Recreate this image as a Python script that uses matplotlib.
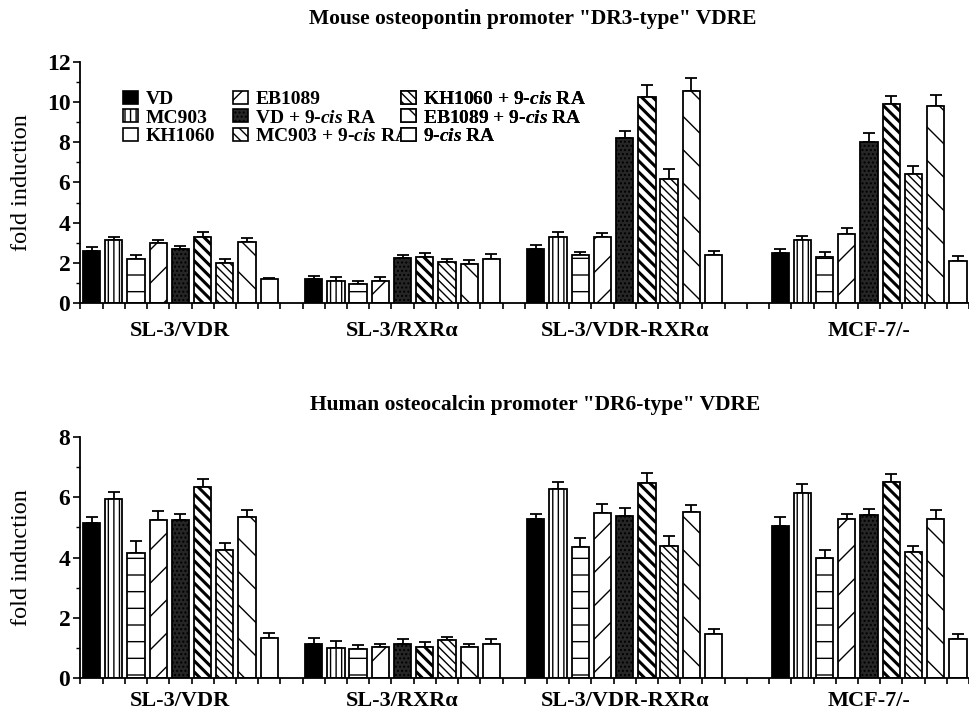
import numpy as np
import matplotlib
matplotlib.use("Agg")
import matplotlib.pyplot as plt
from matplotlib.patches import Patch

plt.rcParams['font.family'] = ['Liberation Serif', 'DejaVu Serif']
plt.rcParams['font.weight'] = 'bold'
plt.rcParams['font.size'] = 14
plt.rcParams['mathtext.fontset'] = 'custom'
plt.rcParams['mathtext.it'] = 'Liberation Serif:italic'
plt.rcParams['mathtext.rm'] = 'Liberation Serif:bold'
plt.rcParams['hatch.linewidth'] = 1.0

# treatments, in bar order inside each group
treatments = ['VD', 'MC903', 'KH1060', 'EB1089',
              'VD + 9-$\\mathit{cis}$ RA', 'MC903 + 9-$\\mathit{cis}$ RA',
              'KH1060 + 9-$\\mathit{cis}$ RA', 'EB1089 + 9-$\\mathit{cis}$ RA',
              '9-$\\mathit{cis}$ RA']
groups = ['SL-3/VDR', 'SL-3/RXRα', 'SL-3/VDR-RXRα', 'MCF-7/-']

# Mouse osteopontin promoter (DR3-type VDRE)
dr3_vdr = [2.59, 3.13, 2.17, 2.97, 2.67, 3.27, 2.00, 3.02, 1.18]
dr3_vdr_err = [0.18, 0.17, 0.20, 0.16, 0.17, 0.26, 0.17, 0.23, 0.08]
dr3_rxr = [1.21, 1.09, 0.93, 1.09, 2.22, 2.27, 2.02, 1.94, 2.19]
dr3_rxr_err = [0.13, 0.22, 0.18, 0.22, 0.17, 0.20, 0.15, 0.20, 0.25]
dr3_vdrrxr = [2.70, 3.30, 2.37, 3.30, 8.24, 10.26, 6.17, 10.56, 2.37]
dr3_vdrrxr_err = [0.19, 0.23, 0.18, 0.20, 0.32, 0.58, 0.51, 0.62, 0.22]
dr3_mcf7 = [2.47, 3.13, 2.30, 3.43, 8.01, 9.93, 6.43, 9.82, 2.09]
dr3_mcf7_err = [0.23, 0.22, 0.22, 0.28, 0.43, 0.38, 0.39, 0.56, 0.25]

# Human osteocalcin promoter (DR6-type VDRE)
dr6_vdr = [5.15, 5.94, 4.14, 5.24, 5.25, 6.35, 4.24, 5.35, 1.34]
dr6_vdr_err = [0.19, 0.25, 0.40, 0.30, 0.21, 0.24, 0.23, 0.22, 0.17]
dr6_rxr = [1.14, 1.01, 0.96, 1.03, 1.14, 1.03, 1.25, 1.03, 1.13]
dr6_rxr_err = [0.19, 0.22, 0.12, 0.11, 0.14, 0.17, 0.11, 0.11, 0.16]
dr6_vdrrxr = [5.27, 6.26, 4.35, 5.47, 5.37, 6.48, 4.38, 5.51, 1.45]
dr6_vdrrxr_err = [0.18, 0.23, 0.31, 0.32, 0.27, 0.31, 0.35, 0.22, 0.18]
dr6_mcf7 = [5.06, 6.15, 3.97, 5.28, 5.40, 6.50, 4.18, 5.28, 1.28]
dr6_mcf7_err = [0.28, 0.29, 0.27, 0.18, 0.20, 0.27, 0.21, 0.29, 0.19]

# bar styles: (facecolor, hatch, hatch linewidth)
styles = [('black', None, 1.0), ('white', '|||', 1.0), ('white', '-', 1.0),
          ('white', '/', 1.0), ('#262626', '....', 1.0),
          ('white', '\\\\\\', 2.2), ('white', '\\\\\\\\', 1.0),
          ('white', '\\', 1.0), ('white', None, 1.0)]

group_start = [0, 10, 20, 31]
bar_w = 0.78

fig = plt.figure(figsize=(9.69, 7.17), dpi=100)
W, H = 969, 717
ax_top = fig.add_axes([80 / W, 1 - 303 / H, 889 / W, 241 / H])
ax_bot = fig.add_axes([80 / W, 1 - 678 / H, 889 / W, 241 / H])


def set_hlw(artist, lw):
    if hasattr(artist, 'set_hatch_linewidth'):
        artist.set_hatch_linewidth(lw)


def draw_panel(ax, means, errs, ymax, label_pad):
    for g, (m, e) in enumerate(zip(means, errs)):
        x = group_start[g] + np.arange(9)
        for i in range(9):
            fc, hatch, hlw = styles[i]
            bars = ax.bar(x[i], m[i], width=bar_w, color=fc, edgecolor='black',
                          linewidth=1.3, hatch=hatch, zorder=2)
            for b in bars:
                set_hlw(b, hlw)
        ax.errorbar(x, m, yerr=[np.zeros(9), e], fmt='none', ecolor='black',
                    elinewidth=1.3, capsize=4, capthick=1.3, zorder=1)
    ax.set_xlim(-0.52, 39.25)
    ax.set_ylim(0, ymax)
    ax.spines['top'].set_visible(False)
    ax.spines['right'].set_visible(False)
    ax.spines['left'].set_linewidth(1.3)
    ax.spines['bottom'].set_linewidth(1.3)
    ax.set_xticks(np.arange(-0.5, 39.6, 1.0))
    ax.set_xticklabels([])
    ax.tick_params(axis='x', which='major', direction='out', length=4, width=1.2)
    centers = [s + 4 for s in group_start]
    ax.set_xticks(centers, minor=True)
    ax.set_xticklabels(groups, minor=True, fontsize=16)
    ax.tick_params(axis='x', which='minor', length=0, pad=label_pad)
    ax.set_yticks(np.arange(0, ymax + 0.1, 2))
    ax.set_yticks(np.arange(1, ymax, 2), minor=True)
    ax.tick_params(axis='y', which='major', direction='out', length=5, width=1.2,
                   pad=2, labelsize=17)
    ax.tick_params(axis='y', which='minor', direction='out', length=3, width=1.0)
    ax.set_ylabel('fold induction', fontsize=17.5)
    ax.yaxis.set_label_coords(-0.054, 0.5)


draw_panel(ax_top, [dr3_vdr, dr3_rxr, dr3_vdrrxr, dr3_mcf7],
           [dr3_vdr_err, dr3_rxr_err, dr3_vdrrxr_err, dr3_mcf7_err], 12, 13)
draw_panel(ax_bot, [dr6_vdr, dr6_rxr, dr6_vdrrxr, dr6_mcf7],
           [dr6_vdr_err, dr6_rxr_err, dr6_vdrrxr_err, dr6_mcf7_err], 8, 9)

fig.text(533 / W, 1 - 19 / H, 'Mouse osteopontin promoter "DR3-type" VDRE',
         ha='center', va='center', fontsize=15.5)
fig.text(535 / W, 1 - 405 / H, 'Human osteocalcin promoter "DR6-type" VDRE',
         ha='center', va='center', fontsize=15.5)

# legend: three columns placed separately
handles = []
for fc, h, hlw in styles:
    p = Patch(facecolor=fc, edgecolor='black', hatch=h, linewidth=1.2)
    set_hlw(p, hlw)
    handles.append(p)
col_x = [123, 233, 401]
for c in range(3):
    leg = ax_top.legend(handles[3 * c:3 * c + 3], treatments[3 * c:3 * c + 3],
                        loc='upper left', bbox_to_anchor=(col_x[c] / W, 1 - 91 / H),
                        bbox_transform=fig.transFigure, frameon=False,
                        borderpad=0, borderaxespad=0, handlelength=0.75,
                        handleheight=0.65, handletextpad=0.4, labelspacing=0.05,
                        fontsize=14)
    ax_top.add_artist(leg)

fig.savefig('out.png', dpi=100)
